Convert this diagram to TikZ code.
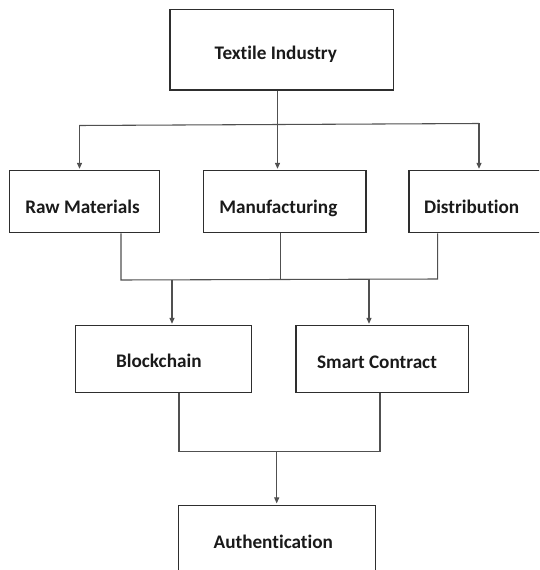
\documentclass[tikz,border=0pt]{standalone}
\usepackage{fontspec}
\setmainfont[Ligatures=NoCommon,RawFeature=-liga]{Carlito}
\usetikzlibrary{arrows.meta}
\definecolor{boxline}{HTML}{2E2E2E}
\definecolor{wire}{HTML}{505050}
\definecolor{ink}{HTML}{1A1A1A}
\begin{document}
\begin{tikzpicture}[x=0.75pt,y=-0.75pt,
  box/.style={draw=boxline,line width=0.85pt,fill=none,inner sep=0pt},
  txt/.style={text=ink,font=\fontsize{14.4}{17}\selectfont\bfseries,inner sep=0pt,anchor=base},
  wirestyle/.style={draw=wire,line width=0.8pt},
  arr/.style={wirestyle,-{Triangle[length=4.5pt,width=3.8pt]},shorten >=1pt}]
\useasboundingbox (0,0) rectangle (539,570);
\clip (0,0) rectangle (539,570);
\fill[white] (0,0) rectangle (539,570);

% boxes
\node[box,minimum width=223.3*0.75pt,minimum height=80.7*0.75pt] (textile) at (281.7,49.7) {};
\node[box,minimum width=150*0.75pt,minimum height=62*0.75pt] (raw) at (84.3,201.7) {};
\node[box,minimum width=162.7*0.75pt,minimum height=62*0.75pt] (manu) at (284.7,201.7) {};
\node[box,minimum width=150*0.75pt,minimum height=62*0.75pt] (dist) at (484,201.7) {};
\node[box,minimum width=176*0.75pt,minimum height=67*0.75pt] (block) at (163.3,359.2) {};
\node[box,minimum width=172.2*0.75pt,minimum height=67*0.75pt] (smart) at (382.1,359.2) {};
\node[box,minimum width=197.3*0.75pt,minimum height=90*0.75pt] (auth) at (277,550.3) {};

% labels
\node[txt] (textileT) at (275.8,60) {Textile Industry};
\node[txt] (rawT) at (82.5,213.3) {Raw Materials};
\node[txt] (manuT) at (278.3,213.3) {Manufacturing};
\node[txt] (distT) at (471.7,213.3) {Distribution};
\node[txt] (blockT) at (158.8,367.2) {Blockchain};
\node[txt] (smartT) at (377,368.7) {Smart Contract};
\node[txt] (authT) at (273.3,548.3) {Authentication};

% junction points
\coordinate (j1) at (277.5,124.5);
\coordinate (hl) at (79.5,125.5);
\coordinate (hr) at (479,123.5);
\coordinate (b1) at (121,280);
\coordinate (b2) at (280.2,279.5);
\coordinate (b3) at (437.7,279);
\coordinate (d1) at (172,279.8);
\coordinate (d2) at (369,279.2);
\coordinate (c1) at (179,451.7);
\coordinate (c2) at (380,451.7);
\coordinate (cm) at (276.7,451.7);

% first level: industry to the three stages
\draw[wirestyle] (j1 |- textile.south) -- (j1);
\draw[wirestyle] (hl) -- (hr);
\draw[arr] (hl) -- (hl |- raw.north);
\draw[arr] (j1) -- (j1 |- manu.north);
\draw[arr] (hr) -- (hr |- dist.north);

% second level: stages merge into blockchain and smart contract
\draw[wirestyle] (b1 |- raw.south) -- (b1) -- (b3) -- (b3 |- dist.south);
\draw[wirestyle] (b2 |- manu.south) -- (b2);
\draw[arr] (d1) -- (d1 |- block.north);
\draw[arr] (d2) -- (d2 |- smart.north);

% third level: merge into authentication
\draw[wirestyle] (c1 |- block.south) -- (c1) -- (c2) -- (c2 |- smart.south);
\draw[arr] (cm) -- (cm |- auth.north);
\end{tikzpicture}
\end{document}
